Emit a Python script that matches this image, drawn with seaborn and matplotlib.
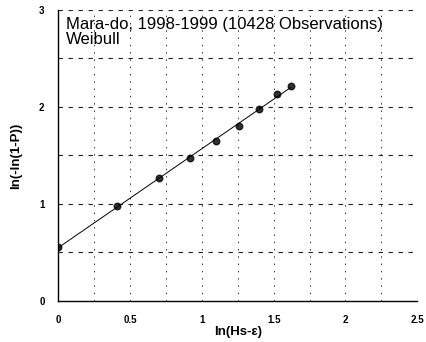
import matplotlib
matplotlib.use("Agg")
import matplotlib.pyplot as plt
import seaborn as sns
import numpy as np
import pandas as pd

sns.set_style("white")
plt.rcParams['font.family'] = ['Liberation Sans', 'DejaVu Sans']
plt.rcParams['text.color'] = 'black'
plt.rcParams['axes.labelcolor'] = 'black'
plt.rcParams['xtick.color'] = 'black'
plt.rcParams['ytick.color'] = 'black'

ln_hs = [0.0, 0.41, 0.70, 0.92, 1.10, 1.26, 1.40, 1.52, 1.62]
ln_ln_p = [0.56, 0.98, 1.27, 1.47, 1.65, 1.80, 1.98, 2.13, 2.22]
xticks = [0, 0.5, 1, 1.5, 2, 2.5]
xtick_labels = ["0", "0.5", "1", "1.5", "2", "2.5"]
yticks = [0, 1, 2, 3]

data = pd.DataFrame({"x": ln_hs, "y": ln_ln_p})

fig = plt.figure(figsize=(4.27, 3.42), dpi=100)
ax = fig.add_axes([0.137, 0.12, 0.84, 0.851])

# dashed grid
for gx in np.arange(0.25, 2.51, 0.25):
    ax.axvline(gx, color="#333333", lw=0.7, ls=(0, (1.5, 6)), zorder=1)
for gy in np.arange(0.5, 3.01, 0.5):
    ax.axhline(gy, color="#222222", lw=0.8, ls=(0, (4, 5)), zorder=1)

sns.regplot(data=data, x="x", y="y", ax=ax, ci=None,
            scatter_kws={"s": 22, "color": "black", "zorder": 3},
            line_kws={"color": "black", "lw": 0.7, "zorder": 2})

ax.set_xlim(0, 2.5)
ax.set_ylim(0, 3)
ax.set_xticks(xticks)
ax.set_xticklabels(xtick_labels)
ax.set_yticks(yticks)
ax.tick_params(direction="inout", length=8, width=1, labelsize=7, pad=6)
for lab in ax.get_xticklabels() + ax.get_yticklabels():
    lab.set_fontweight("bold")

for s in ["top", "right"]:
    ax.spines[s].set_visible(False)
for s in ["left", "bottom"]:
    ax.spines[s].set_color("black")
    ax.spines[s].set_linewidth(1.0)

ax.set_xlabel("ln(Hs-ε)", fontsize=9.5, fontweight="bold", labelpad=1)
ax.set_ylabel("ln(-ln(1-P))", fontsize=9.5, fontweight="bold", labelpad=12)

ax.text(0.05, 2.93, "Mara-do, 1998-1999 (10428 Observations)\nWeibull",
        fontsize=12, va="top", ha="left", linespacing=1.05, color="black")

fig.savefig("out.png", dpi=100)
